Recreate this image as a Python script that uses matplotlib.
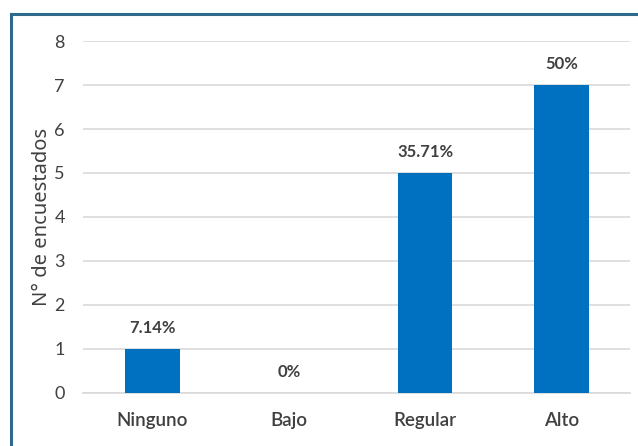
import matplotlib
matplotlib.use("Agg")
import matplotlib.pyplot as plt
from matplotlib.lines import Line2D
from matplotlib.font_manager import FontProperties

# Data
categories = ["Ninguno", "Bajo", "Regular", "Alto"]
counts = [1, 0, 5, 7]
pct_labels = ["7.14%", "0%", "35.71%", "50%"]
y_ticks = [0, 1, 2, 3, 4, 5, 6, 7, 8]

plt.rcParams["font.family"] = ["Lato", "DejaVu Sans"]
text_color = "#404040"

fig = plt.figure(figsize=(6.38, 4.46), dpi=100)
ax = fig.add_axes([0.130, 0.119, 0.857, 0.789])

x = range(len(categories))
bars = ax.bar(x, counts, width=0.4, color="#0070C0", zorder=3)

for xi, c, lab in zip(x, counts, pct_labels):
    ax.text(xi, c + 0.3, lab, ha="center", va="bottom", fontsize=12,
            fontweight="bold", color=text_color)

ax.set_xlim(-0.51, 3.5)
ax.set_ylim(0, 8)
ax.set_yticks(y_ticks)
ax.set_xticks(list(x))
ax.set_xticklabels(categories, fontsize=13.5, color=text_color, fontweight="semibold")
ax.tick_params(axis="y", labelsize=13, labelcolor=text_color, length=0, pad=13)
ax.tick_params(axis="x", length=0, pad=14)
ax.grid(axis="y", color="#d9d9d9", linewidth=1.2, zorder=0)
for s in ["top", "right", "left"]:
    ax.spines[s].set_visible(False)
ax.spines["bottom"].set_color("#d9d9d9")
ax.spines["bottom"].set_linewidth(1.2)

label_font = FontProperties(family="Noto Sans", size=14.5)
ax.set_ylabel("N° de encuestados", fontproperties=label_font, color=text_color, labelpad=2)

# frame lines (left and top only visible in the crop)
fig.add_artist(Line2D([11 / 638, 11 / 638], [0, 1 - 14 / 446],
                      transform=fig.transFigure, color="#2E6A8C", linewidth=2.2))
fig.add_artist(Line2D([11 / 638, 1], [1 - 14 / 446, 1 - 14 / 446],
                      transform=fig.transFigure, color="#2E6A8C", linewidth=2.2))

fig.savefig("out.png", dpi=100)
